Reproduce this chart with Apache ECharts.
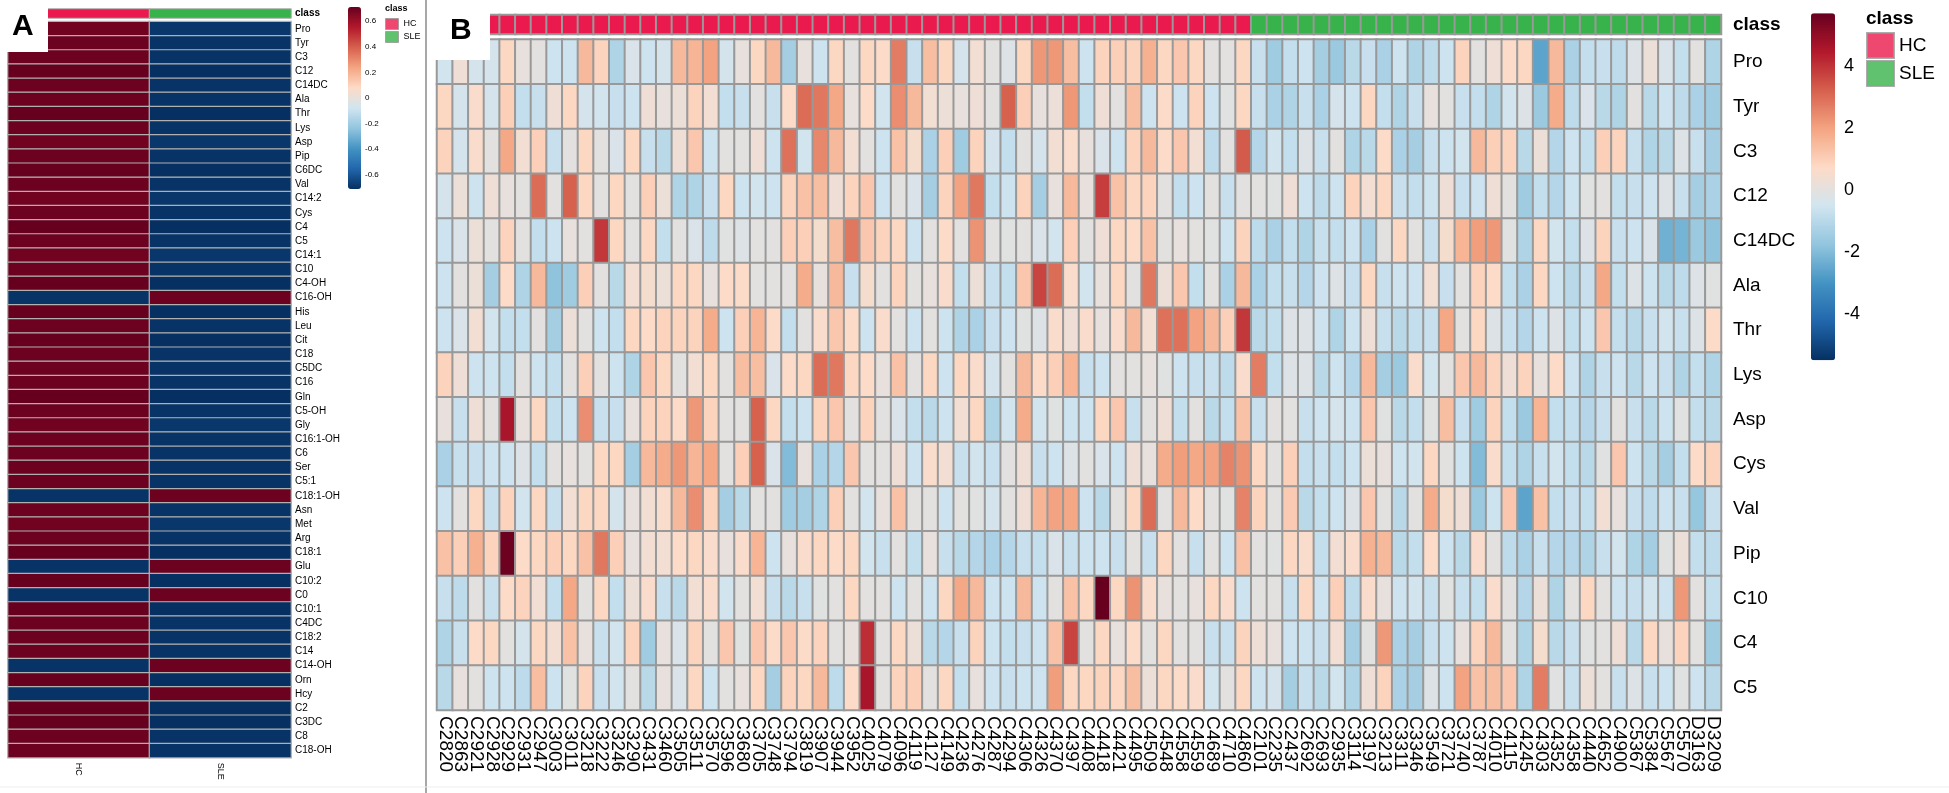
<!DOCTYPE html>
<html lang="en">
<head>
    <meta charset="UTF-8">
    <title>metabolite heatmaps</title>
    <script src="https://cdn.jsdelivr.net/npm/echarts@6.0.0/dist/echarts.min.js"></script>
    <style>
        html, body { margin: 0; padding: 0; background: #fff; }
        #main { width: 1949px; height: 793px; }
    </style>
</head>
<body>
<div id="main"></div>
<script>
    // ---- panel A : group averages ----
    var rowsA = ['Pro', 'Tyr', 'C3', 'C12', 'C14DC', 'Ala', 'Thr', 'Lys', 'Asp', 'Pip',
        'C6DC', 'Val', 'C14:2', 'Cys', 'C4', 'C5', 'C14:1', 'C10', 'C4-OH', 'C16-OH',
        'His', 'Leu', 'Cit', 'C18', 'C5DC', 'C16', 'Gln', 'C5-OH', 'Gly', 'C16:1-OH',
        'C6', 'Ser', 'C5:1', 'C18:1-OH', 'Asn', 'Met', 'Arg', 'C18:1', 'Glu', 'C10:2',
        'C0', 'C10:1', 'C4DC', 'C18:2', 'C14', 'C14-OH', 'Orn', 'Hcy', 'C2', 'C3DC',
        'C8', 'C18-OH'];
    var groupsA = ['HC', 'SLE'];
    var hcA = [0.69, 0.70, 0.70, 0.71, 0.70, 0.70, 0.71, 0.70, 0.69, 0.70,
        0.71, 0.70, 0.69, 0.70, 0.71, 0.70, 0.69, 0.70, 0.71, -0.70,
        0.71, 0.70, 0.71, 0.70, 0.70, 0.70, 0.71, 0.70, 0.69, 0.70,
        0.70, 0.70, 0.70, -0.70, 0.70, 0.69, 0.70, 0.71, -0.70, 0.71,
        -0.70, 0.71, 0.70, 0.70, 0.70, -0.70, 0.71, -0.70, 0.71, 0.71,
        0.70, 0.70];
    var sleA = [-0.69, -0.70, -0.70, -0.71, -0.70, -0.70, -0.71, -0.70, -0.69, -0.70,
        -0.71, -0.70, -0.69, -0.70, -0.71, -0.70, -0.69, -0.70, -0.71, 0.70,
        -0.71, -0.70, -0.71, -0.70, -0.70, -0.70, -0.71, -0.70, -0.69, -0.70,
        -0.70, -0.70, -0.70, 0.70, -0.70, -0.69, -0.70, -0.71, 0.70, -0.71,
        0.70, -0.71, -0.70, -0.70, -0.70, 0.70, -0.71, 0.70, -0.71, -0.71,
        -0.70, -0.70];
    var ticksA = [-0.6, -0.4, -0.2, 0, 0.2, 0.4, 0.6];

    // ---- panel B : samples ----
    var samplesHC = ['C2820', 'C2863', 'C2921', 'C2928', 'C2929', 'C2931', 'C2947', 'C3003', 'C3011', 'C3218',
        'C3222', 'C3246', 'C3290', 'C3431', 'C3460', 'C3505', 'C3511', 'C3570', 'C3596', 'C3680',
        'C3705', 'C3748', 'C3794', 'C3819', 'C3907', 'C3944', 'C3952', 'C4025', 'C4079', 'C4096',
        'C4119', 'C4127', 'C4149', 'C4236', 'C4276', 'C4287', 'C4294', 'C4306', 'C4326', 'C4370',
        'C4397', 'C4408', 'C4418', 'C4421', 'C4495', 'C4509', 'C4548', 'C4558', 'C4559', 'C4689',
        'C4710', 'C4860'];
    var samplesSLE = ['C2101', 'C2235', 'C2437', 'C2692', 'C2693', 'C2935', 'C3114', 'C3197', 'C3213', 'C3311',
        'C3346', 'C3549', 'C3721', 'C3740', 'C3787', 'C4010', 'C4115', 'C4245', 'C4303', 'C4352',
        'C4358', 'C4440', 'C4652', 'C4900', 'C5367', 'C5384', 'C5567', 'C5570', 'D3163', 'D3209'];
    var rowsB = ['Pro', 'Tyr', 'C3', 'C12', 'C14DC', 'Ala', 'Thr', 'Lys', 'Asp', 'Cys', 'Val', 'Pip', 'C10', 'C4', 'C5'];

    var pro = [-0.5, 0.3, -0.4, -0.4, 0.8, 0.1, 0.0, -0.6, -0.6, 1.5, 0.9, -1.2, -0.3, -0.6, -0.4, 1.5, 1.6, 2.0, -0.4, 0.1,
        0.8, 1.5, -1.4, 0.1, -0.6, 0.8, 0.0, 0.8, 0.7, 2.7, -0.7, 1.4, 0.8, -0.4, 0.4, 0.0, -0.2, 0.8, 2.2, 2.2,
        1.4, -0.6, 0.9, 1.0, 0.9, 1.7, 0.8, 1.2, 0.8, 0.0, 0.0, 0.8,
        -0.7, -1.5, -0.8, -0.6, -1.4, -1.6, -1.0, -0.7, -1.3, -0.6, -1.2, -0.9, -0.6, 0.9, 0.0, 0.3, 0.7, 0.8, -2.6, 1.5,
        -1.3, -0.8, -0.7, -0.9, -0.2, 0.2, -0.3, -0.8, 0.0, -1.2];
    var tyr = [0.8, -0.4, 0.6, -0.4, 1.0, -0.8, -0.7, 0.3, 0.8, -0.4, -0.5, -0.7, -0.6, 0.3, 0.1, 0.2, 0.9, 0.4, -0.8, -0.7,
        0.0, -0.7, 0.7, 3.0, 2.8, 1.9, 0.1, 0.7, -0.5, 2.4, 1.5, 0.4, 0.2, 0.1, 0.3, 0.0, 3.2, 1.0, 0.1, 0.2,
        2.2, -0.8, 0.3, 0.0, 1.4, -0.6, 0.7, -0.6, 0.9, -0.6, -0.1, 0.8,
        -0.7, -1.3, -1.2, -0.7, -1.3, -0.4, -0.6, 0.8, -0.8, -1.2, -0.7, 0.1, 0.0, -0.7, -0.8, -1.2, -0.5, -0.2, -1.6, 1.8,
        -0.9, -0.3, -1.0, -1.2, 0.0, -1.0, -0.6, -0.9, -1.3, -1.5];
    var c3 = [0.9, -0.4, 0.6, 0.0, 1.9, 0.4, 1.0, -0.7, 0.0, 0.8, 0.0, -0.3, 0.8, -0.7, -1.0, 0.3, 1.2, -0.6, 0.0, 0.0,
        0.3, -0.6, 2.9, -0.5, 2.5, 1.5, 0.4, 0.0, -0.6, 1.3, 0.5, -1.3, 1.0, -1.5, 0.9, -0.4, -0.8, 0.0, -0.4, 0.4,
        0.6, 0.1, -0.3, -0.6, 0.9, 1.5, 0.7, 1.2, 0.4, -0.9, 0.0, 3.3,
        -1.1, -0.5, -0.8, -0.2, -0.7, 0.0, -1.2, -1.0, 0.7, -1.3, -1.4, -0.7, -0.6, -0.5, 1.5, 1.0, 0.9, -1.0, 0.2, -1.1,
        -0.6, -0.8, 1.0, 0.9, -0.7, -1.2, -1.0, -0.2, -0.7, -1.4];
    var c12 = [-0.4, 0.2, -0.6, 0.3, 0.1, 0.0, 3.0, 0.0, 3.2, 0.8, 0.0, 0.8, 0.0, 1.0, 0.2, -1.2, -1.2, -0.7, 0.8, -0.6,
        -0.5, -0.6, 0.9, 1.3, 1.4, 0.3, 0.9, 1.2, -0.6, 0.0, -0.3, -1.4, 0.9, 2.0, 2.8, -0.8, -0.6, 0.9, -1.4, 0.1,
        1.5, 0.1, 3.8, 1.3, 0.8, 0.9, 0.0, -0.8, -0.6, 0.0, -0.7, 0.0,
        0.0, -0.1, 0.3, -0.6, -0.9, -0.6, 0.9, 0.4, 0.8, -0.7, -0.8, -0.6, 0.3, -0.7, -0.6, 0.3, 0.0, -1.5, -0.8, -1.1,
        -0.6, -0.1, 0.0, -0.8, -0.7, -0.6, -0.2, -0.7, -1.4, -1.3];
    var c14dc = [-0.6, -0.3, 0.2, 0.0, 0.9, 0.0, -0.8, -0.6, 0.1, 0.0, 3.9, 0.8, 0.0, 0.8, -0.8, 0.0, -0.3, -0.9, -0.1, -0.2,
        0.0, 0.0, 1.0, 1.0, 0.5, 1.4, 2.8, 1.2, 0.9, 0.8, -0.6, 0.0, 0.7, 0.0, 2.3, 0.0, -0.1, 0.0, -0.3, -0.5,
        1.0, 0.0, 0.3, 0.8, 0.7, 1.3, 0.0, 0.1, 0.0, -0.1, -0.6, 0.9,
        -0.9, -1.3, -0.8, -1.2, -0.7, -0.8, -0.6, -1.3, 0.0, 0.8, 0.0, -0.7, 0.5, 1.6, 2.1, 2.2, -0.1, -1.2, 0.8, -0.5,
        -0.8, -0.2, 0.9, -0.7, -0.6, -0.3, -2.3, -2.2, -1.6, -1.8];
    var ala = [-0.6, 0.0, 0.2, -1.4, 0.7, -1.2, 1.5, -1.8, -1.5, 1.0, 0.0, -1.0, 0.4, 0.5, 0.2, 0.8, 0.8, 0.1, 0.7, 0.7,
        0.0, 0.0, 0.0, 1.8, 0.1, 1.5, -0.7, 0.5, 0.0, 0.9, 0.0, 0.1, 0.6, -0.8, 0.2, -0.7, -0.8, 1.2, 3.7, 3.0,
        0.6, -0.5, 0.1, 0.8, 0.0, 2.8, 0.2, 1.2, -0.8, 0.0, -1.3, 1.5,
        -1.3, -0.8, -0.7, -1.1, -0.6, -0.2, -0.7, 0.8, -0.7, -0.6, -0.6, 0.4, -0.7, 0.0, 0.9, 0.7, -0.8, -1.3, 0.8, -0.6,
        -1.0, -0.7, 1.9, -0.8, -0.2, -0.6, -1.0, -0.9, -0.2, -0.1];
    var thr = [-0.6, -0.3, 0.4, -0.5, -0.8, -0.8, 0.0, -1.4, 0.2, 0.0, -0.6, -0.8, 0.8, 0.7, 0.9, 0.9, 0.9, 1.8, -0.6, 1.0,
        1.6, 0.7, -0.8, 0.0, 0.6, 1.2, 0.7, -0.6, 0.6, 0.0, -0.6, 0.0, -0.6, -1.2, -1.3, -0.7, -0.6, -0.1, -0.2, 0.6,
        0.3, 0.6, 0.1, 0.6, 1.5, 0.4, 2.9, 2.9, 2.0, 1.5, 1.0, 3.9,
        -1.0, -0.8, -0.2, -0.2, -0.6, -1.2, -0.6, 0.3, -0.7, -1.0, -0.8, -0.7, 1.9, 0.0, 0.8, -0.2, -0.7, -1.1, -0.6, -0.2,
        -0.8, -0.6, 1.2, -0.8, -1.0, -0.7, -0.5, -0.7, -0.2, 0.7];
    var lys = [0.9, 0.3, -0.6, -0.6, -0.8, 0.0, -0.6, -0.8, 0.0, 1.0, 0.0, -0.6, -1.2, 1.2, 0.8, 0.0, 0.4, 0.8, 0.0, 1.4,
        1.4, -0.3, 0.7, 0.8, 3.0, 2.8, 0.8, 0.7, 0.1, 1.3, 0.0, 0.8, -0.6, 0.8, 0.6, -0.4, 0.0, 1.5, 0.7, 1.0,
        1.6, -0.7, -0.6, 0.0, 0.0, 0.1, -0.1, -0.6, -0.7, -0.7, -0.9, 0.6,
        2.7, -0.8, -0.2, -0.2, -1.0, -0.6, -1.1, 1.5, -1.4, -1.6, 0.6, -0.5, 0.0, 1.2, 1.5, 0.9, 0.3, 0.9, 0.1, 0.7,
        -0.6, -1.2, -0.7, -0.6, -1.0, -0.6, -0.7, -1.2, -0.8, -1.2];
    var asp = [0.1, -0.7, 0.3, 0.0, 4.6, 0.1, 0.8, -0.8, -0.6, 2.4, -0.7, -0.7, 0.1, 0.9, 0.9, 0.7, 2.2, 0.9, 0.0, 0.0,
        3.2, 0.8, -0.8, -0.6, 0.9, 1.2, 0.0, 0.9, 0.0, -0.3, -0.8, -1.0, -0.6, 0.4, 0.8, -1.2, -0.5, 1.8, -0.5, -0.1,
        -0.6, -0.6, 0.8, 1.2, -0.7, 0.0, 0.3, -0.8, 0.0, -1.0, -0.8, 1.3,
        -0.7, 0.0, 0.0, -0.7, -0.6, -0.4, -0.6, 1.2, -0.1, -1.0, -0.8, -0.1, 1.4, -0.7, -1.5, 0.9, -0.8, -1.6, 1.6, -0.8,
        -0.8, -1.1, -0.7, 0.0, -0.7, -1.0, -0.6, -0.1, -0.8, -1.0];
    var cys = [-1.3, -0.7, -0.7, -0.6, -0.6, -0.2, -0.8, 0.0, 0.1, 0.0, 0.8, 0.8, -1.4, 1.5, 1.8, 2.2, 1.6, 1.9, 0.0, 1.0,
        3.2, -0.3, -2.0, 0.1, -1.3, -1.1, 1.2, 0.0, 0.0, 0.3, -0.6, 0.6, 0.4, -0.7, -0.5, -0.7, 0.0, 0.3, -0.7, -0.6,
        -0.2, 0.0, -0.3, -0.6, 0.3, 0.1, 1.8, 2.1, 1.9, 2.0, 2.6, 2.3,
        0.8, 0.0, 1.0, -0.8, -0.7, -0.8, -0.6, 0.2, 0.1, -0.6, -0.5, 0.8, 0.0, -0.6, -2.0, 0.6, -0.8, -1.2, -0.7, -0.5,
        -0.8, -1.0, -0.1, 1.2, -0.6, -1.0, -1.4, -0.8, 0.7, 0.9];
    var val = [-0.6, 0.0, 0.8, -0.7, 0.9, -0.5, 0.8, -0.7, 0.4, 0.8, 0.8, -0.4, 0.1, 0.4, 0.6, 1.5, 2.4, 0.9, -1.4, -1.0,
        0.0, 0.0, -1.5, -1.4, -1.2, 1.0, 0.0, -0.5, 0.1, 1.3, 0.0, 0.0, -0.6, 0.0, -0.1, -0.4, 0.0, 0.3, 1.6, 2.0,
        1.9, -0.6, -1.0, 0.0, 0.8, 3.0, 0.0, 1.5, 0.7, 0.0, -0.1, 2.6,
        0.9, 0.0, 1.1, -1.0, -0.8, -0.6, -0.2, 1.2, 0.0, -1.0, 0.0, 1.8, 0.5, 0.3, -1.6, -0.6, 1.2, -2.6, 1.3, -0.8,
        -0.7, -0.8, 0.4, 0.1, -0.7, -0.9, -0.6, -0.7, -1.7, -0.7];
    var pip = [1.3, 1.0, 1.7, 0.9, 5.6, 0.7, 0.8, 1.0, 0.8, 1.3, 2.8, 1.0, 0.1, 0.4, 0.4, 0.7, 0.8, 0.6, 0.1, 0.6,
        1.6, -0.6, 0.1, 0.6, 0.8, 0.7, 0.8, -0.5, -0.7, 0.0, -0.8, 0.1, -0.7, -1.0, -1.1, -1.3, -1.1, -0.7, -0.8, -0.3,
        -0.7, -0.6, -0.6, -0.7, 0.0, -0.7, 0.8, 0.0, -0.7, 0.0, -0.6, 1.3,
        0.0, -0.1, 0.8, 0.6, -0.8, 0.4, 0.6, 1.7, 1.5, -1.0, -0.8, 0.7, -0.6, -1.0, 0.6, 0.0, -0.9, -1.3, -0.7, -1.1,
        -1.1, -1.2, -0.7, -0.5, -1.2, -1.4, -0.1, 0.2, -0.8, -0.9];
    var c10 = [-0.7, -0.9, 0.0, -0.7, 0.7, 0.9, 0.4, -0.8, 1.9, 0.0, 0.8, -0.8, 0.2, 0.6, -0.7, -1.0, 0.4, 0.6, -0.5, 0.0,
        0.4, -0.7, -1.0, -0.7, -0.1, 0.0, 0.8, 0.0, 0.0, -0.6, 0.0, -0.6, 0.8, 1.9, 1.5, -0.6, -0.6, 1.5, -0.6, 0.0,
        1.3, 0.8, 5.7, 0.8, 2.3, 0.6, 0.1, 0.0, 0.1, 0.8, 0.6, -0.6,
        0.0, 0.0, -0.7, 0.8, -0.6, 1.0, -0.9, 0.6, 0.1, -0.6, -0.5, -0.7, -0.1, -0.7, -0.8, 0.6, 0.0, -1.1, 0.2, -1.2,
        0.0, 0.8, 0.0, -0.6, -0.7, -0.5, -0.6, 2.2, 0.0, -0.8];
    var c4 = [-1.2, -0.7, 0.7, 0.8, 0.0, -0.4, 0.8, 0.4, 1.3, 0.1, -0.7, -0.5, 0.9, -1.5, 0.1, -0.3, 0.9, 0.0, 1.2, -0.1,
        1.2, 0.7, 1.2, 0.7, 0.9, 0.0, 0.1, 4.1, 0.0, 0.8, 0.2, -1.0, -1.1, -0.7, 0.9, -0.6, -0.8, -0.7, -0.6, 1.3,
        3.7, 0.0, 0.8, 0.1, 0.7, 0.0, 0.8, 0.0, 0.0, -0.7, -0.7, 0.9,
        0.3, 0.1, -0.6, -0.6, -0.7, 0.4, -1.4, 0.0, 2.2, -1.3, -1.4, -0.7, -0.6, 0.1, 0.9, 1.5, 0.0, -1.2, 0.5, -1.0,
        -0.7, -0.1, 0.0, 0.3, -1.0, 0.8, 0.1, 0.9, 0.0, -1.5];
    var c5 = [-1.0, 0.1, 0.0, -0.6, -0.6, -0.9, 1.4, -0.6, -0.1, 0.9, -0.7, -0.5, 0.0, -1.0, 0.1, -0.3, 0.8, -0.6, 0.0, 0.1,
        0.8, -1.4, 0.9, 0.8, 1.5, -0.9, 0.7, 4.6, 0.0, 0.9, 1.0, 0.0, 0.8, -0.8, 0.1, -0.6, -0.7, -0.6, -0.6, 2.1,
        0.8, 0.8, 0.9, 0.8, 1.4, 0.2, 0.8, 0.7, 0.6, -0.5, 0.0, 0.8,
        -0.6, -0.4, -1.4, -0.7, -1.0, -0.5, -1.2, 0.3, 0.9, -1.3, -1.4, -0.2, -0.6, 2.0, 1.3, 1.4, 1.2, -1.2, 2.7, -0.1,
        -0.7, 0.2, 0.0, -0.7, -0.2, -0.7, -0.6, -0.1, -0.6, -1.0];
    var ticksB = [-4, -2, 0, 2, 4];

    var rdbu = ['#053061', '#2166AC', '#4393C3', '#92C5DE', '#D1E5F0', '#FDDBC7', '#F4A582', '#D6604D', '#B2182B', '#67001F'];
    var hcColor = '#EA1A4E';
    var sleColor = '#38B24A';
    var font = 'Liberation Sans, Arial, sans-serif';

    var myChart = echarts.init(document.getElementById('main'));

    // build heatmap cells
    var cellsA = [];
    for (var i = 0; i < rowsA.length; i++) {
        cellsA.push([0, i, hcA[i]]);
        cellsA.push([1, i, sleA[i]]);
    }
    var samples = samplesHC.concat(samplesSLE);
    var matB = [pro, tyr, c3, c12, c14dc, ala, thr, lys, asp, cys, val, pip, c10, c4, c5];
    var cellsB = [];
    for (var r = 0; r < matB.length; r++) {
        for (var c = 0; c < samples.length; c++) {
            cellsB.push([c, r, matB[r][c]]);
        }
    }
    var classB = [];
    for (var k = 0; k < samples.length; k++) {
        classB.push([k, 0, k < samplesHC.length ? 0 : 1]);
    }

    function hideAxis(idx, data) {
        return {type: 'category', gridIndex: idx, data: data, show: false};
    }

    var option = {
        animation: false,
        backgroundColor: '#fff',
        textStyle: {fontFamily: font},
        grid: [
            {left: 8, top: 21.7, width: 283, height: 736},          // A heatmap
            {left: 8, top: 9, width: 283, height: 9},               // A class bar
            {left: 437, top: 39.6, width: 1284, height: 670.5},     // B heatmap
            {left: 437, top: 15, width: 1284, height: 19},          // B class bar
            {left: 348, top: 7, width: 13, height: 182},            // A colour key ticks
            {left: 1811, top: 13.3, width: 24, height: 347}         // B colour key ticks
        ],
        xAxis: [
            {
                type: 'category', gridIndex: 0, data: groupsA, position: 'bottom',
                axisLine: {show: false}, axisTick: {show: false}, splitLine: {show: false},
                axisLabel: {rotate: -90, fontSize: 9, margin: 5, color: '#000'}
            },
            hideAxis(1, groupsA),
            {
                type: 'category', gridIndex: 2, data: samples, position: 'bottom',
                axisLine: {show: false}, axisTick: {show: false}, splitLine: {show: false},
                axisLabel: {rotate: -90, fontSize: 19, margin: 6, interval: 0, color: '#000'}
            },
            hideAxis(3, samples),
            {type: 'value', gridIndex: 4, show: false},
            {type: 'value', gridIndex: 5, show: false}
        ],
        yAxis: [
            {
                type: 'category', gridIndex: 0, data: rowsA, inverse: true, position: 'right',
                axisLine: {show: false}, axisTick: {show: false}, splitLine: {show: false},
                axisLabel: {fontSize: 10, margin: 4, interval: 0, color: '#000'}
            },
            {
                type: 'category', gridIndex: 1, data: ['class'], position: 'right',
                axisLine: {show: false}, axisTick: {show: false},
                axisLabel: {fontSize: 10, fontWeight: 'bold', margin: 4, color: '#000'}
            },
            {
                type: 'category', gridIndex: 2, data: rowsB, inverse: true, position: 'right',
                axisLine: {show: false}, axisTick: {show: false}, splitLine: {show: false},
                axisLabel: {fontSize: 19, margin: 12, interval: 0, color: '#000'}
            },
            {
                type: 'category', gridIndex: 3, data: ['class'], position: 'right',
                axisLine: {show: false}, axisTick: {show: false},
                axisLabel: {fontSize: 19, fontWeight: 'bold', margin: 12, color: '#000'}
            },
            {
                type: 'value', gridIndex: 4, min: -0.71, max: 0.71, position: 'right',
                axisLine: {show: false}, axisTick: {show: false}, splitLine: {show: false},
                axisLabel: {customValues: ticksA, fontSize: 8, margin: 4, color: '#000'}
            },
            {
                type: 'value', gridIndex: 5, min: -5.5, max: 5.7, position: 'right',
                axisLine: {show: false}, axisTick: {show: false}, splitLine: {show: false},
                axisLabel: {customValues: ticksB, fontSize: 18, margin: 9, color: '#000'}
            }
        ],
        visualMap: [
            {
                type: 'continuous', seriesIndex: 0, min: -0.71, max: 0.71,
                inRange: {color: rdbu}, calculable: false, hoverLink: false,
                left: 348, top: 7, itemWidth: 13, itemHeight: 182, padding: 0, text: null
            },
            {
                type: 'continuous', seriesIndex: 2, min: -5.5, max: 5.7,
                inRange: {color: rdbu}, calculable: false, hoverLink: false,
                left: 1811, top: 13.3, itemWidth: 24, itemHeight: 347, padding: 0, text: null
            },
            {
                type: 'piecewise', seriesIndex: [1, 3], show: false,
                pieces: [{value: 0, color: hcColor}, {value: 1, color: sleColor}]
            }
        ],
        legend: [
            {
                data: ['HC', 'SLE'], orient: 'vertical', left: 1866, top: 32, padding: 0,
                itemWidth: 27, itemHeight: 25, itemGap: 1, icon: 'rect', selectedMode: false,
                itemStyle: {borderColor: '#999', borderWidth: 2},
                textStyle: {fontSize: 19, color: '#000'}
            },
            {
                data: ['HC', 'SLE'], orient: 'vertical', left: 385, top: 18, padding: 0,
                itemWidth: 13, itemHeight: 11, itemGap: 1, icon: 'rect', selectedMode: false,
                itemStyle: {borderColor: '#999', borderWidth: 1},
                textStyle: {fontSize: 9, color: '#000'}
            }
        ],
        series: [
            {
                type: 'heatmap', xAxisIndex: 0, yAxisIndex: 0, data: cellsA,
                itemStyle: {borderColor: '#b0b0b0', borderWidth: 1.2}, emphasis: {disabled: true}
            },
            {
                type: 'heatmap', xAxisIndex: 1, yAxisIndex: 1, data: [[0, 0, 0], [1, 0, 1]],
                itemStyle: {borderColor: '#b0b0b0', borderWidth: 1}, emphasis: {disabled: true}
            },
            {
                type: 'heatmap', xAxisIndex: 2, yAxisIndex: 2, data: cellsB,
                itemStyle: {borderColor: '#999', borderWidth: 2}, emphasis: {disabled: true}
            },
            {
                type: 'heatmap', xAxisIndex: 3, yAxisIndex: 3, data: classB,
                itemStyle: {borderColor: '#999', borderWidth: 2}, emphasis: {disabled: true}
            },
            {name: 'HC', type: 'scatter', xAxisIndex: 3, yAxisIndex: 3, data: [], itemStyle: {color: hcColor}},
            {name: 'SLE', type: 'scatter', xAxisIndex: 3, yAxisIndex: 3, data: [], itemStyle: {color: sleColor}}
        ],
        graphic: [
            {type: 'line', z: 100, shape: {x1: 426, y1: 0, x2: 426, y2: 793}, style: {stroke: '#8a8a8a', lineWidth: 1.5}},
            {type: 'line', z: 100, shape: {x1: 0, y1: 787, x2: 1949, y2: 787}, style: {stroke: '#eeeeee', lineWidth: 1}},
            {type: 'rect', z: 100, shape: {x: 0, y: 0, width: 48, height: 52}, style: {fill: '#fff'}},
            {type: 'text', z: 101, left: 12, top: 12, style: {text: 'A', fontSize: 30, fontWeight: 'bold', fontFamily: font, fill: '#000'}},
            {type: 'rect', z: 100, shape: {x: 432, y: 4, width: 58, height: 56}, style: {fill: '#fff'}},
            {type: 'text', z: 101, left: 450, top: 16, style: {text: 'B', fontSize: 30, fontWeight: 'bold', fontFamily: font, fill: '#000'}},
            {type: 'text', z: 101, left: 385, top: 4, style: {text: 'class', fontSize: 9, fontWeight: 'bold', fontFamily: font, fill: '#000'}},
            {type: 'text', z: 101, left: 1866, top: 9, style: {text: 'class', fontSize: 19, fontWeight: 'bold', fontFamily: font, fill: '#000'}}
        ]
    };
    myChart.setOption(option);
</script>
</body>
</html>
